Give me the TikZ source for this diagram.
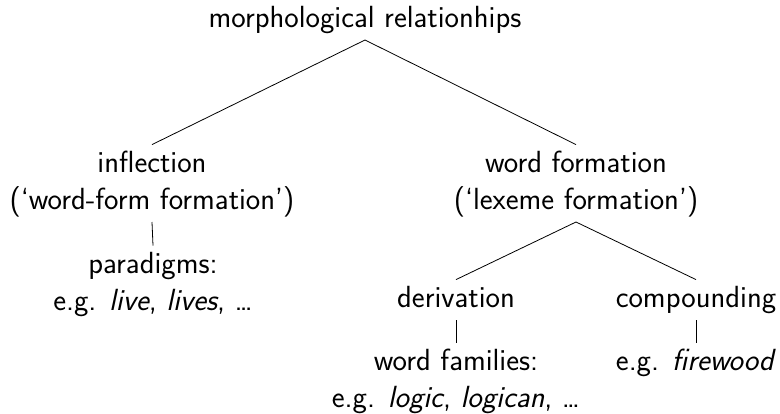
\documentclass[tikz,border=0pt]{standalone}
\usepackage{fontspec}
\begin{document}
\begin{tikzpicture}[x=1pt,y=-1pt,
  lbl/.style={anchor=north,align=center,inner xsep=0pt,inner ysep=1.5pt,
    font=\sffamily\fontsize{30.6}{37}\selectfont},
  edge/.style={line width=0.8pt}]
\useasboundingbox (0,0) rectangle (780,413);
\node[lbl] (root) at (365,{27-27.4}) {\strut morphological relationhips\strut};
\node[lbl] (infl) at (152,{172-27.4}) {\strut inflection\\(`word-form formation')\strut};
\node[lbl] (wf) at (576,{172-27.4}) {\strut word formation\\(`lexeme formation')\strut};
\node[lbl] (par) at (153,{273-27.4}) {\strut paradigms:\\e.g. \textit{live}, \textit{lives}, \ldots\strut};
\node[lbl] (der) at (456,{307-27.4}) {\strut derivation\strut};
\node[lbl] (comp) at (696,{307-27.4}) {\strut compounding\strut};
\node[lbl] (fam) at (456,{370-27.4}) {\strut word families:\\e.g. \textit{logic}, \textit{logican}, \ldots\strut};
\node[lbl] (fire) at (696,{370-27.4}) {\strut e.g. \textit{firewood}\strut};
\draw[edge] (root.south) -- (infl.north);
\draw[edge] (root.south) -- (wf.north);
\draw[edge] (infl.south) -- (par.north);
\draw[edge] (wf.south) -- (der.north);
\draw[edge] (wf.south) -- (comp.north);
\draw[edge] (der.south) -- (fam.north);
\draw[edge] (comp.south) -- (fire.north);
\end{tikzpicture}
\end{document}
